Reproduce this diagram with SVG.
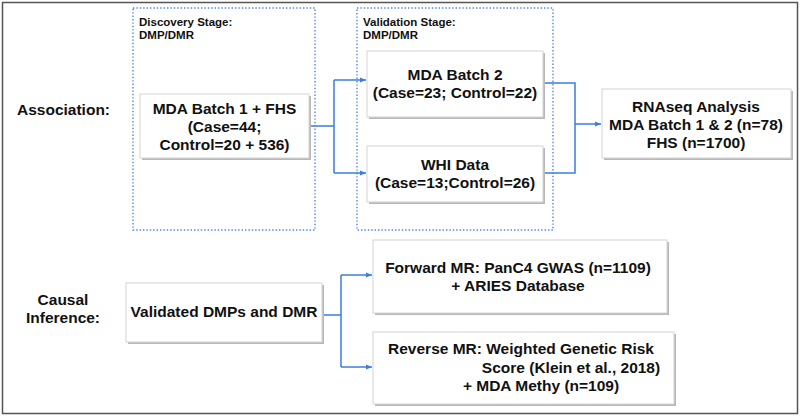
<svg xmlns="http://www.w3.org/2000/svg" width="800" height="416" viewBox="0 0 800 416">
<defs>
<marker id="ah" viewBox="0 0 6 6" refX="6" refY="3" markerWidth="6" markerHeight="6" markerUnits="userSpaceOnUse" orient="auto">
<path d="M0,0.5 L6,3 L0,5.5 Z" fill="#3b7de0"/>
</marker>
</defs>
<style>
text{font-family:"Liberation Sans",Arial,sans-serif;font-weight:bold;fill:#111;}
.t{font-size:15.5px;text-anchor:middle;}
.lbl{font-size:15.5px;}
.st{font-size:11.5px;}
.shadow{fill:#b8b8b8;}
.box{fill:#fff;stroke:#d4d4d4;stroke-width:1;}
.stage{fill:none;stroke:#4a86e8;stroke-width:1.4;stroke-dasharray:1.4 2;}
.conn{fill:none;stroke:#3b7de0;stroke-width:1.5;}
</style>
<rect x="0" y="0" width="800" height="416" fill="#fff"/>
<rect x="2.5" y="2.5" width="795" height="411" fill="none" stroke="#555" stroke-width="1.5"/>

<g id="discovery-stage">
<rect class="stage" x="133" y="8" width="182" height="222"/>
<text class="st" x="139" y="26">Discovery Stage:</text>
<text class="st" x="139" y="39">DMP/DMR</text>
</g>
<g id="validation-stage">
<rect class="stage" x="357" y="8" width="196" height="222"/>
<text class="st" x="363" y="26">Validation Stage:</text>
<text class="st" x="363" y="39">DMP/DMR</text>
</g>

<g id="label-association"><text class="lbl" x="17" y="115">Association:</text></g>
<g id="label-causal">
<text class="lbl" x="63" y="305" text-anchor="middle">Causal</text>
<text class="lbl" x="63" y="323" text-anchor="middle">Inference:</text>
</g>

<g id="connectors">
<path class="conn" d="M309,126 H334 M334,80 V173"/>
<path class="conn" d="M334,80 H366" marker-end="url(#ah)"/>
<path class="conn" d="M334,173 H366" marker-end="url(#ah)"/>
<path class="conn" d="M543,83 H575 V173 H543"/>
<path class="conn" d="M575,124 H601" marker-end="url(#ah)"/>
<path class="conn" d="M322,315 H341 M341,275 V367"/>
<path class="conn" d="M341,275 H372" marker-end="url(#ah)"/>
<path class="conn" d="M341,367 H372" marker-end="url(#ah)"/>
</g>

<g id="mda-batch1">
<rect class="shadow" x="142" y="96" width="169" height="64"/>
<rect class="box" x="140" y="94" width="169" height="64"/>
<text class="t" x="224.5" y="114">MDA Batch 1 + FHS</text>
<text class="t" x="224.5" y="132">(Case=44;</text>
<text class="t" x="224.5" y="150">Control=20 + 536)</text>
</g>

<g id="mda-batch2">
<rect class="shadow" x="369" y="53" width="176" height="66"/>
<rect class="box" x="367" y="51" width="176" height="66"/>
<text class="t" x="455" y="80">MDA Batch 2</text>
<text class="t" x="455" y="98">(Case=23; Control=22)</text>
</g>

<g id="whi-data">
<rect class="shadow" x="369" y="148" width="176" height="56"/>
<rect class="box" x="367" y="146" width="176" height="56"/>
<text class="t" x="455" y="170">WHI Data</text>
<text class="t" x="455" y="188">(Case=13;Control=26)</text>
</g>

<g id="rnaseq">
<rect class="shadow" x="604" y="91" width="189" height="69"/>
<rect class="box" x="602" y="89" width="189" height="69"/>
<text class="t" x="696" y="112">RNAseq Analysis</text>
<text class="t" x="696" y="130">MDA Batch 1 &amp; 2 (n=78)</text>
<text class="t" x="696" y="148">FHS (n=1700)</text>
</g>

<g id="validated">
<rect class="shadow" x="128" y="285" width="196" height="59"/>
<rect class="box" x="126" y="283" width="196" height="59"/>
<text class="t" x="224" y="317">Validated DMPs and DMR</text>
</g>

<g id="forward-mr">
<rect class="shadow" x="375" y="242" width="294" height="73"/>
<rect class="box" x="373" y="240" width="294" height="73"/>
<text class="t" x="518" y="273">Forward MR: PanC4 GWAS (n=1109)</text>
<text class="t" x="518" y="291">+ ARIES Database</text>
</g>

<g id="reverse-mr">
<rect class="shadow" x="375" y="334" width="301" height="72"/>
<rect class="box" x="373" y="332" width="301" height="72"/>
<text class="t" x="521" y="354">Reverse MR: Weighted Genetic Risk</text>
<text class="t" x="571" y="373">Score (Klein et al., 2018)</text>
<text class="t" x="541" y="391">+ MDA Methy (n=109)</text>
</g>
</svg>
